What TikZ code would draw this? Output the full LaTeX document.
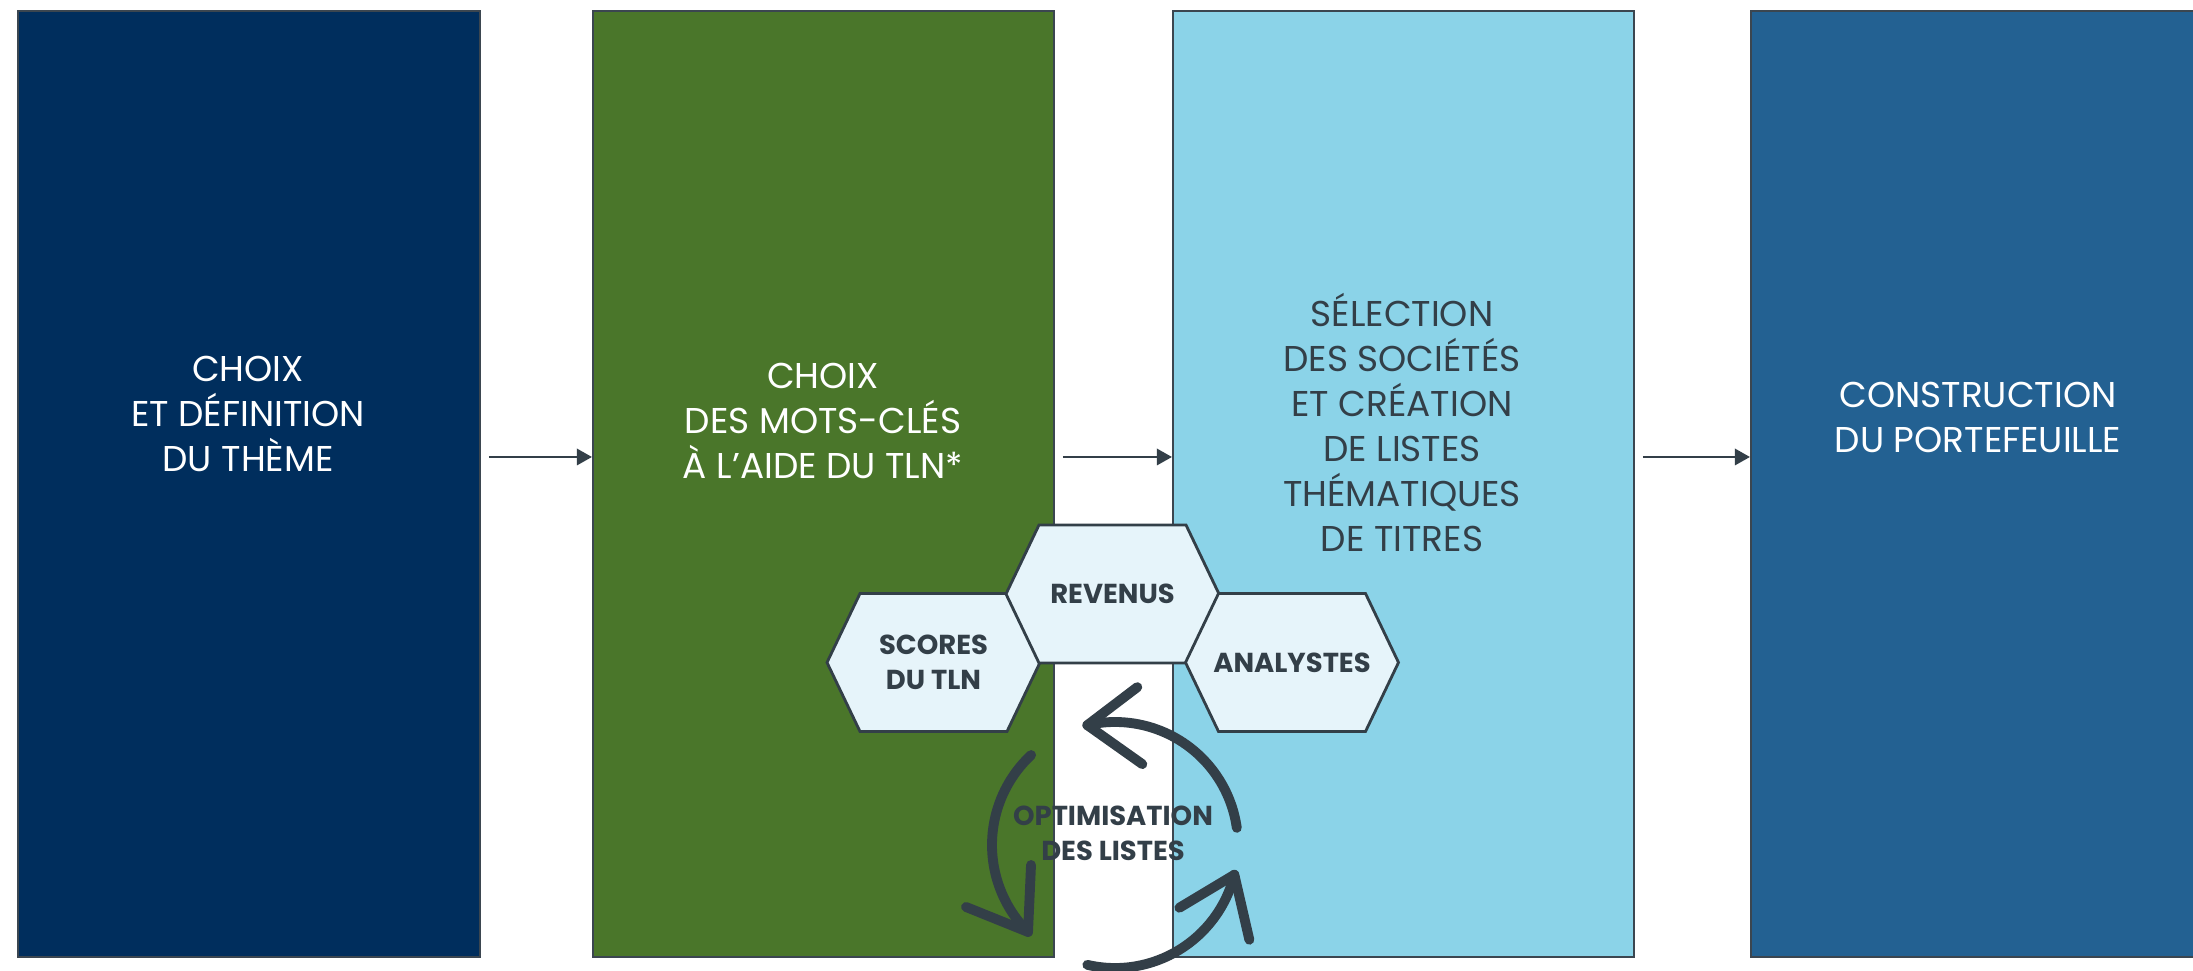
\documentclass[tikz,border=0pt]{standalone}
\usepackage{fontspec}
\setmainfont{Poppins}
\usetikzlibrary{arrows.meta,calc}
\definecolor{navy}{RGB}{0,46,93}
\definecolor{leaf}{RGB}{74,118,42}
\definecolor{sky}{RGB}{139,211,232}
\definecolor{steel}{RGB}{35,97,146}
\definecolor{slate}{RGB}{51,63,72}
\definecolor{edge}{RGB}{59,70,80}
\definecolor{hexfill}{RGB}{230,244,250}
\tikzset{
  box/.style={draw=edge, line width=0.6pt, inner sep=0pt, minimum height=9.45cm, anchor=north west},
  maintext/.style={align=center, anchor=base, inner sep=0pt, font=\fontsize{10.2}{12.8}\selectfont},
  conn/.style={draw=slate, line width=0.8pt, -{Triangle[length=4.3pt,width=4.6pt]}, shorten <=0.075cm},
  hexline/.style={draw=slate, line width=0.8pt, fill=hexfill, line join=miter},
  hextext/.style={align=center, inner sep=0pt, text=slate, font=\fontsize{7.8}{9.9}\selectfont\bfseries},
  cyc/.style={draw=slate, line width=2.8pt, line cap=round, line join=round}
}
\begin{document}
\begin{tikzpicture}[x=0.01cm,y=-0.01cm]
\useasboundingbox (0,0) rectangle (2193,971);
% boxes
\node[box, fill=navy, minimum width=4.62cm] (b1) at (17,10) {};
\node[box, fill=leaf, minimum width=4.61cm] (b2) at (592,10) {};
\node[box, fill=sky, minimum width=4.61cm] (b3) at (1172,10) {};
\node[box, fill=steel, minimum width=4.70cm] (b4) at (1750,10) {};
% box texts (base = last line)
\node[maintext, text=white] (t1) at (248,472) {CHOIX\\ET DÉFINITION\\DU THÈME};
\node[maintext, text=white] (t2) at (823,479) {CHOIX\\DES MOTS-CLÉS\\À L’AIDE DU TLN*};
\node[maintext, text=slate] (t3) at (1402,552) {SÉLECTION\\DES SOCIÉTÉS\\ET CRÉATION\\DE LISTES\\THÉMATIQUES\\DE TITRES};
\node[maintext, text=white] (t4) at (1978,453) {CONSTRUCTION\\DU PORTEFEUILLE};
% connectors
\coordinate (ya) at (0,457);
\draw[conn] (b1.east |- ya) -- (b2.west |- ya);
\draw[conn] (b2.east |- ya) -- (b3.west |- ya);
\draw[conn] (b3.east |- ya) -- (b4.west |- ya);
% hexagons
\coordinate (hc1) at (933.5,662.5);
\coordinate (hc2) at (1112.5,594);
\coordinate (hc3) at (1292,662.5);
\foreach \c in {hc1,hc2,hc3}{
  \draw[hexline] (\c) ++(-106.5,0) -- ++(33,-69) -- ++(147,0) -- ++(33,69) -- ++(-33,69) -- ++(-147,0) -- cycle;
}
\node[hextext] (h1) at (hc1) {SCORES\\DU TLN};
\node[hextext] (h2) at (hc2) {REVENUS};
\node[hextext] (h3) at (hc3) {ANALYSTES};
% cycle arrows
\coordinate (cc) at (1115,845);
\draw[cyc] ($(cc)+(-8:123)$) arc[start angle=-8,end angle=-103,radius=123] coordinate (tipA);
\draw[cyc] ($(tipA)+(50,-38)$) -- (tipA) -- ($(tipA)+(55,39)$);
\draw[cyc] ($(cc)+(-133:123)$) arc[start angle=-133,end angle=-225,radius=123] coordinate (tipB);
\draw[cyc] ($(tipB)+(-62,-25)$) -- (tipB) -- ($(tipB)+(3,-67)$);
\draw[cyc] ($(cc)+(-257:123)$) arc[start angle=-257,end angle=-346,radius=123] coordinate (tipC);
\draw[cyc] ($(tipC)+(-55,33)$) -- (tipC) -- ($(tipC)+(15,65)$);
\node[hextext] (opt) at (1113,833) {OPTIMISATION\\DES LISTES};
\end{tikzpicture}
\end{document}
